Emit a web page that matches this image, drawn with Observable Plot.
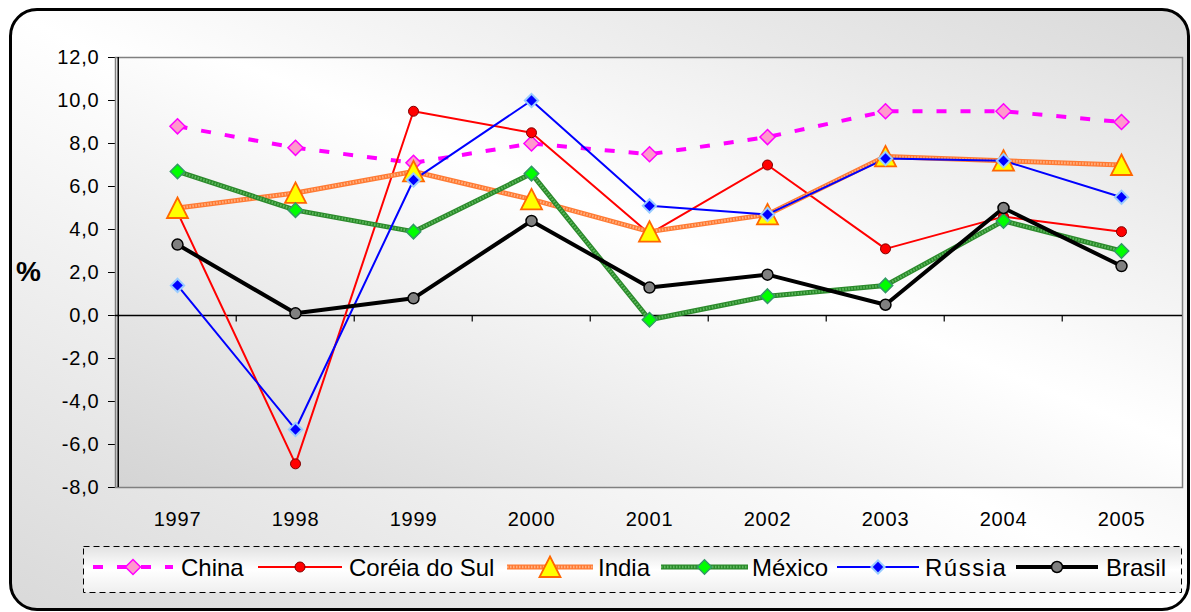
<!DOCTYPE html>
<html>
<head>
<meta charset="utf-8">
<script src="https://cdn.jsdelivr.net/npm/d3@7"></script>
<script src="https://cdn.jsdelivr.net/npm/@observablehq/plot@0.6"></script>
<style>
  html, body { margin: 0; padding: 0; background: #fff; }
  #page { position: relative; width: 1191px; height: 612px; overflow: hidden; font-family: "Liberation Sans", Arial, sans-serif; }
  #frame { position: absolute; left: 9px; top: 8px; width: 1181px; height: 603px; box-sizing: border-box;
           border: 3px solid #000; border-radius: 28px;
           background: linear-gradient(to top right, #d9d9d9 0%, #ffffff 50%, #d9d9d9 100%); }
  #plotbg { position: absolute; left: 115px; top: 57px; width: 1067px; height: 430px;
            background: linear-gradient(to top right, #d4d4d4 0%, #ffffff 55%, #e0e0e0 100%); }
  #chart { position: absolute; left: 0; top: 0; }
  #chart svg text { font-size: 20px; letter-spacing: 0.8px; font-family: "Liberation Sans", Arial, sans-serif; }
  #pct { position: absolute; left: 16px; top: 256px; font-size: 28px; font-weight: bold; color: #000; font-family: "Liberation Sans", Arial, sans-serif; }
  #legend { position: absolute; left: 83px; top: 546px; }
</style>
</head>
<body>
<div id="page">
  <div id="frame"></div>
  <div id="plotbg"></div>
  <div id="chart"></div>
  <div id="pct">%</div>
  <svg id="legend" width="1100" height="48"></svg>
</div>
<script>
// ---- data ----
const years  = [1997, 1998, 1999, 2000, 2001, 2002, 2003, 2004, 2005];
const names  = ["China", "Coréia do Sul", "India", "México", "Rússia", "Brasil"];
const china  = [8.8, 7.8, 7.1, 8.0, 7.5, 8.3, 9.5, 9.5, 9.0];
const korea  = [4.8, -6.9, 9.5, 8.5, 3.8, 7.0, 3.1, 4.6, 3.9];
const india  = [5.0, 5.7, 6.7, 5.4, 3.9, 4.7, 7.4, 7.2, 7.0];
const mexico = [6.7, 4.9, 3.9, 6.6, -0.2, 0.9, 1.4, 4.4, 3.0];
const russia = [1.4, -5.3, 6.3, 10.0, 5.1, 4.7, 7.3, 7.2, 5.5];
const brasil = [3.3, 0.1, 0.8, 4.4, 1.3, 1.9, 0.5, 5.0, 2.3];
const yTicks = [-8, -6, -4, -2, 0, 2, 4, 6, 8, 10, 12];

// ---- marker shapes ----
const triSym = { draw(ctx) { ctx.moveTo(0, -10.5); ctx.lineTo(10.5, 10); ctx.lineTo(-10.5, 10); ctx.closePath(); } };
const tickSym = { draw(ctx) { ctx.moveTo(0, 0); ctx.lineTo(0, 6); } };

// ---- styles ----
const styles = [
  {values: china,  lines: [{stroke: "#ff00ff", width: 4, dash: "10,14"}],
   sym: d3.symbolDiamond2, r: 6.8, fill: "#ff99cc", mstroke: "#ff00ff", mw: 1.5},
  {values: korea,  lines: [{stroke: "#ff0000", width: 2}],
   sym: d3.symbolCircle, r: 5, fill: "#ff0000", mstroke: "#800000", mw: 1},
  {values: india,  lines: [{stroke: "#ff7a33", width: 5}, {stroke: "#ffb080", width: 2.5, dash: "1.5,1.5"}],
   sym: triSym, r: 7.4, fill: "#ffff00", mstroke: "#ff6600", mw: 1.8},
  {values: mexico, lines: [{stroke: "#2b8a2b", width: 5}, {stroke: "#5cb85c", width: 2.5, dash: "1.5,1.5"}],
   sym: d3.symbolDiamond2, r: 6.5, fill: "#00ff00", mstroke: "#339966", mw: 1.5},
  {values: russia, lines: [{stroke: "#0000ff", width: 2}],
   sym: d3.symbolDiamond2, r: 6, fill: "#0000ff", mstroke: "#99ccff", mw: 2},
  {values: brasil, lines: [{stroke: "#000000", width: 4}],
   sym: d3.symbolCircle, r: 5.5, fill: "#808080", mstroke: "#000000", mw: 1.5}
];

const W = 1191, H = 540, mL = 115, mR = 9, mT = 57, mB = 53;
const step = (W - mL - mR) / years.length;
const fmt = d => d.toFixed(1).replace(".", ",");

const seriesMarks = [];
styles.forEach((s) => {
  const data = years.map((y, i) => ({year: y, value: s.values[i]}));
  s.lines.forEach(l => {
    seriesMarks.push(Plot.line(data, {x: "year", y: "value", stroke: l.stroke, strokeWidth: l.width,
      strokeDasharray: l.dash, strokeLinejoin: "round", strokeLinecap: "butt"}));
  });
});
styles.forEach((s) => {
  const data = years.map((y, i) => ({year: y, value: s.values[i]}));
  seriesMarks.push(Plot.dot(data, {x: "year", y: "value", symbol: s.sym, r: s.r, fill: s.fill,
    stroke: s.mstroke, strokeWidth: s.mw}));
});

const chart = Plot.plot({
  width: W, height: H,
  marginLeft: mL, marginRight: mR, marginTop: mT, marginBottom: mB,
  style: {background: "transparent", fontFamily: "'Liberation Sans', Arial, sans-serif", fontSize: "20px", color: "#000", overflow: "visible"},
  x: {type: "point", domain: years, padding: 0.5, label: null, tickSize: 0, tickPadding: 24, tickFormat: d => String(d)},
  y: {domain: [-8, 12], ticks: yTicks, label: null, tickSize: 7, tickPadding: 9, tickFormat: fmt},
  marks: [
    Plot.frame({stroke: "#808080", strokeWidth: 1.5}),
    Plot.ruleX([years[0]], {dx: -step / 2, stroke: "#000", strokeWidth: 1.5}),
    Plot.ruleY([0], {stroke: "#000", strokeWidth: 1.5}),
    Plot.dot(years.slice(1), {x: d => d, y: 0, symbol: tickSym, stroke: "#000", strokeWidth: 1.2, dx: -step / 2}),
    ...seriesMarks
  ]
});
document.getElementById("chart").appendChild(chart);

// ---- legend ----
const lg = d3.select("#legend");
const x0 = 83;
const defs = lg.append("defs");
const grad = defs.append("linearGradient").attr("id", "lgGrad").attr("x1", 0).attr("y1", 0).attr("x2", 0).attr("y2", 1);
grad.append("stop").attr("offset", "0%").attr("stop-color", "#e2e2e2");
grad.append("stop").attr("offset", "50%").attr("stop-color", "#ffffff");
grad.append("stop").attr("offset", "100%").attr("stop-color", "#efefef");
lg.append("rect").attr("x", 0.5).attr("y", 0.5).attr("width", 1098).attr("height", 46)
  .attr("fill", "url(#lgGrad)").attr("stroke", "#000").attr("stroke-width", 1).attr("stroke-dasharray", "6,4");
const itemPos = [
  {s: 93, e: 173, t: 181},
  {s: 258, e: 342, t: 349},
  {s: 507, e: 593, t: 598},
  {s: 661, e: 748, t: 752},
  {s: 837, e: 919, t: 925},
  {s: 1016, e: 1098, t: 1106}
];
const cy = 21;
styles.forEach((s, k) => {
  const p = itemPos[k];
  s.lines.forEach(l => {
    lg.append("line").attr("x1", p.s - x0).attr("x2", p.e - x0).attr("y1", cy).attr("y2", cy)
      .attr("stroke", l.stroke).attr("stroke-width", l.width).attr("stroke-dasharray", l.dash || null);
  });
  const mx = (p.s + p.e) / 2 - x0;
  lg.append("path").attr("d", d3.symbol(s.sym, Math.PI * s.r * s.r)())
    .attr("transform", `translate(${mx},${cy})`)
    .attr("fill", s.fill).attr("stroke", s.mstroke).attr("stroke-width", s.mw);
  lg.append("text").attr("x", p.t - x0).attr("y", cy + 8.5).text(names[k])
    .attr("font-family", "'Liberation Sans', Arial, sans-serif").attr("font-size", 24).attr("fill", "#000")
    .attr("letter-spacing", names[k] === "Rússia" ? 1.5 : 0);
});
</script>
</body>
</html>
